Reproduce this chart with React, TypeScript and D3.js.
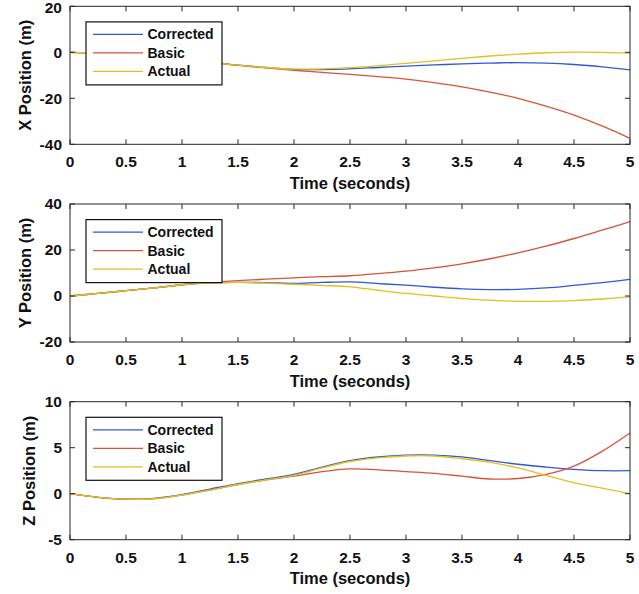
import React from 'react';
import * as d3 from 'd3';

const TIME = [0, 0.25, 0.5, 0.75, 1, 1.25, 1.5, 1.75, 2, 2.25, 2.5, 2.75, 3, 3.25, 3.5, 3.75, 4, 4.25, 4.5, 4.75, 5];

const SERIES_NAMES = ['Corrected', 'Basic', 'Actual'];
const SERIES_COLORS = ['#3159d4', '#d6553a', '#e0c21e'];

const X_CORRECTED = [0, -0.3, -0.9, -1.8, -2.9, -4.2, -5.6, -6.6, -7.4, -7.5, -7.2, -6.6, -6.0, -5.5, -5.0, -4.7, -4.5, -4.7, -5.3, -6.3, -7.6];
const X_BASIC = [0, -0.3, -0.9, -1.8, -2.9, -4.2, -5.7, -6.8, -7.8, -8.7, -9.6, -10.6, -11.7, -13.2, -15.0, -17.3, -20.0, -23.4, -27.3, -32.0, -37.4];
const X_ACTUAL = [0, -0.3, -0.9, -1.8, -2.9, -4.2, -5.6, -6.6, -7.3, -7.2, -6.7, -5.9, -4.8, -3.7, -2.6, -1.6, -0.8, -0.2, 0.1, 0.0, -0.4];

const Y_CORRECTED = [0, 1.1, 2.3, 3.5, 4.9, 5.7, 5.9, 5.8, 5.5, 5.9, 6.1, 5.4, 4.7, 3.8, 3.1, 2.8, 2.9, 3.5, 4.6, 5.8, 7.2];
const Y_BASIC = [0, 1.1, 2.3, 3.5, 4.9, 5.9, 6.7, 7.3, 7.9, 8.4, 8.8, 9.7, 10.8, 12.2, 14.0, 16.2, 18.8, 21.7, 25.0, 28.6, 32.3];
const Y_ACTUAL = [0, 1.1, 2.3, 3.5, 4.9, 5.7, 5.9, 5.6, 5.1, 4.6, 4.0, 2.5, 1.1, 0.0, -1.1, -1.8, -2.3, -2.3, -2.0, -1.3, -0.4];

const Z_CORRECTED = [0, -0.4, -0.6, -0.5, -0.1, 0.5, 1.1, 1.6, 2.1, 2.9, 3.6, 4.0, 4.2, 4.2, 4.0, 3.6, 3.2, 2.9, 2.65, 2.5, 2.5];
const Z_BASIC = [0, -0.4, -0.6, -0.55, -0.15, 0.4, 1.0, 1.5, 1.9, 2.4, 2.7, 2.6, 2.4, 2.2, 1.9, 1.6, 1.65, 2.1, 3.0, 4.6, 6.6];
const Z_ACTUAL = [0, -0.4, -0.6, -0.55, -0.15, 0.4, 1.0, 1.5, 2.0, 2.8, 3.5, 3.9, 4.1, 4.1, 3.8, 3.4, 2.8, 2.0, 1.2, 0.6, 0.0];

const X_TICKS = [0, 0.5, 1, 1.5, 2, 2.5, 3, 3.5, 4, 4.5, 5];
const X_TICK_LABELS = ['0', '0.5', '1', '1.5', '2', '2.5', '3', '3.5', '4', '4.5', '5'];
const X_AXIS_TITLE = 'Time (seconds)';

const PANEL_TITLES = ['X Position (m)', 'Y Position (m)', 'Z Position (m)'];
const PANEL_DOMAINS = [[-40, 20], [-20, 40], [-5, 10]];
const PANEL_TICKS = [[-40, -20, 0, 20], [-20, 0, 20, 40], [-5, 0, 5, 10]];
const PANEL_SERIES = [
  [X_CORRECTED, X_BASIC, X_ACTUAL],
  [Y_CORRECTED, Y_BASIC, Y_ACTUAL],
  [Z_CORRECTED, Z_BASIC, Z_ACTUAL],
];

const LEFT = 70;
const RIGHT = 630;
const PANEL_TOPS = [6.3, 204, 401.7];
const PANEL_H = 138;
const YLABEL_X = [25, 25, 29];
const FONT = '"Liberation Sans", Arial, Helvetica, sans-serif';
const AXIS_COLOR = '#262626';
const TICK_LEN = 5;

function Panel({ idx }: { idx: number }) {
  const top = PANEL_TOPS[idx];
  const bottom = top + PANEL_H;
  const x = d3.scaleLinear().domain([0, 5]).range([LEFT, RIGHT]);
  const y = d3.scaleLinear().domain(PANEL_DOMAINS[idx]).range([bottom, top]);
  const line = d3
    .line<number>()
    .x((_, i) => x(TIME[i]))
    .y((d) => y(d))
    .curve(d3.curveCatmullRom.alpha(0.5));

  const legendX = 86;
  const legendY = top + 15.6;
  const legendW = 136;
  const legendH = 63;
  const rowY = [12.5, 31, 49.5];

  return (
    <g>
      {PANEL_SERIES[idx].map((s, i) => (
        <path key={i} d={line(s) || ''} fill="none" stroke={SERIES_COLORS[i]} strokeWidth={1.3} />
      ))}
      <rect x={LEFT} y={top} width={RIGHT - LEFT} height={PANEL_H} fill="none" stroke={AXIS_COLOR} strokeWidth={1} />
      {X_TICKS.map((t, i) => (
        <g key={'xt' + i}>
          <line x1={x(t)} x2={x(t)} y1={bottom} y2={bottom - TICK_LEN} stroke={AXIS_COLOR} strokeWidth={1} />
          <line x1={x(t)} x2={x(t)} y1={top} y2={top + TICK_LEN} stroke={AXIS_COLOR} strokeWidth={1} />
          <text
            x={x(t)}
            y={bottom + 17.5}
            dy="0.35em"
            textAnchor="middle"
            fontFamily={FONT}
            fontWeight="bold"
            fontSize={15.5}
            fill="#111"
          >
            {X_TICK_LABELS[i]}
          </text>
        </g>
      ))}
      {PANEL_TICKS[idx].map((v, i) => (
        <g key={'yt' + i}>
          <line x1={LEFT} x2={LEFT + TICK_LEN} y1={y(v)} y2={y(v)} stroke={AXIS_COLOR} strokeWidth={1} />
          <line x1={RIGHT} x2={RIGHT - TICK_LEN} y1={y(v)} y2={y(v)} stroke={AXIS_COLOR} strokeWidth={1} />
          <text
            x={LEFT - 8}
            y={Math.max(y(v), 8)}
            dy="0.35em"
            textAnchor="end"
            fontFamily={FONT}
            fontWeight="bold"
            fontSize={15.5}
            fill="#111"
          >
            {String(v)}
          </text>
        </g>
      ))}
      <text
        x={(LEFT + RIGHT) / 2}
        y={bottom + 39}
        dy="0.35em"
        textAnchor="middle"
        fontFamily={FONT}
        fontWeight="bold"
        fontSize={16.5}
        fill="#111"
      >
        {X_AXIS_TITLE}
      </text>
      <text
        transform={`translate(${YLABEL_X[idx]},${(top + bottom) / 2}) rotate(-90)`}
        dy="0.35em"
        textAnchor="middle"
        fontFamily={FONT}
        fontWeight="bold"
        fontSize={16.5}
        fill="#111"
      >
        {PANEL_TITLES[idx]}
      </text>
      <rect x={legendX} y={legendY} width={legendW} height={legendH} fill="#fff" stroke="#111" strokeWidth={1.2} />
      {SERIES_NAMES.map((n, i) => (
        <g key={'lg' + i}>
          <line
            x1={legendX + 7}
            x2={legendX + 57}
            y1={legendY + rowY[i]}
            y2={legendY + rowY[i]}
            stroke={SERIES_COLORS[i]}
            strokeWidth={1.3}
          />
          <text
            x={legendX + 61.5}
            y={legendY + rowY[i]}
            dy="0.35em"
            fontFamily={FONT}
            fontWeight="bold"
            fontSize={14}
            fill="#111"
          >
            {n}
          </text>
        </g>
      ))}
    </g>
  );
}

export default function App() {
  return (
    <svg
      width={639}
      height={594}
      viewBox="0 0 639 594"
      style={{ position: 'absolute', left: 0, top: 0, background: '#fff' }}
    >
      <rect x={0} y={0} width={639} height={594} fill="#fff" />
      {PANEL_TITLES.map((_, i) => (
        <Panel key={i} idx={i} />
      ))}
    </svg>
  );
}
